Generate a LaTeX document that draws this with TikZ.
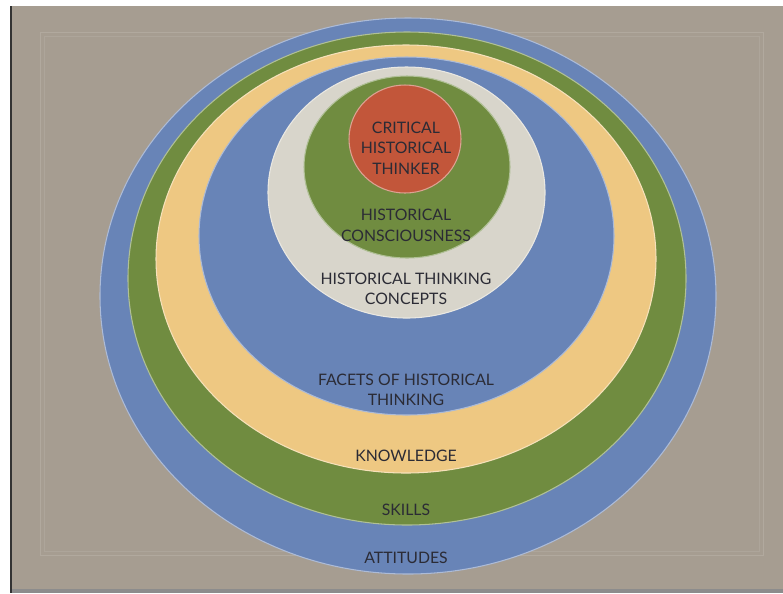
\documentclass[tikz,border=0pt]{standalone}
\usepackage{fontspec}
\setmainfont{Lato}
\usepackage{xcolor}
\usepackage{tikz}
\usetikzlibrary{positioning, calc}

\definecolor{tan}{HTML}{A69D91}
\definecolor{ringblue}{HTML}{6884B7}
\definecolor{ringgreen}{HTML}{708C40}
\definecolor{ringyellow}{HTML}{EEC882}
\definecolor{ringgray}{HTML}{D8D5CB}
\definecolor{ringred}{HTML}{C2563A}
\definecolor{ink}{HTML}{2B2B35}

\tikzset{
  ring/.style={fill=#1, draw=white!45!#1, line width=0.6pt},
  lbl/.style={text=ink, align=center, inner sep=0pt,
    font=\fontsize{9}{11.7}\selectfont},
}

\begin{document}
\begin{tikzpicture}[x=0.02cm, y=-0.02cm]
\useasboundingbox (0,0) rectangle (783,593);
% slide background
\fill[white] (0,0) rectangle (783,593);
\fill[tan] (12,6) rectangle (783,593);
\fill[black!80] (10,6) rectangle (12,593);
\fill[black!45] (12,589) rectangle (783,593);
\draw[white!12!tan, line width=0.5pt] (40,32) rectangle (763,555);
\draw[white!8!tan, line width=0.4pt] (44,36) rectangle (759,551);

% rings, outermost first
\filldraw[ring=ringblue] (408,296) ellipse [x radius=308, y radius=278];
\filldraw[ring=ringgreen] (407,278.5) ellipse [x radius=279, y radius=246.5];
\filldraw[ring=ringyellow] (406,259) ellipse [x radius=250, y radius=214];
\filldraw[ring=ringblue] (406.5,236) ellipse [x radius=207.5, y radius=179];
\filldraw[ring=ringgray] (406.5,192.5) ellipse [x radius=138.5, y radius=125.5];
\filldraw[ring=ringgreen] (407,167) ellipse [x radius=103, y radius=91];
\filldraw[ring=ringred] (405,139) ellipse [x radius=56, y radius=54];

% labels
\node[lbl] at (406, 148) (thinker) {CRITICAL\\HISTORICAL\\THINKER};
\node[lbl] at (406, 225.5) (conscious) {HISTORICAL\\CONSCIOUSNESS};
\node[lbl] at (406, 289) (concepts) {HISTORICAL THINKING\\CONCEPTS};
\node[lbl] at (406, 390) (facets) {FACETS OF HISTORICAL\\THINKING};
\node[lbl] at (406, 456) (knowledge) {KNOWLEDGE};
\node[lbl] at (406, 510) (skills) {SKILLS};
\node[lbl] at (406, 558) (attitudes) {ATTITUDES};
\end{tikzpicture}
\end{document}
